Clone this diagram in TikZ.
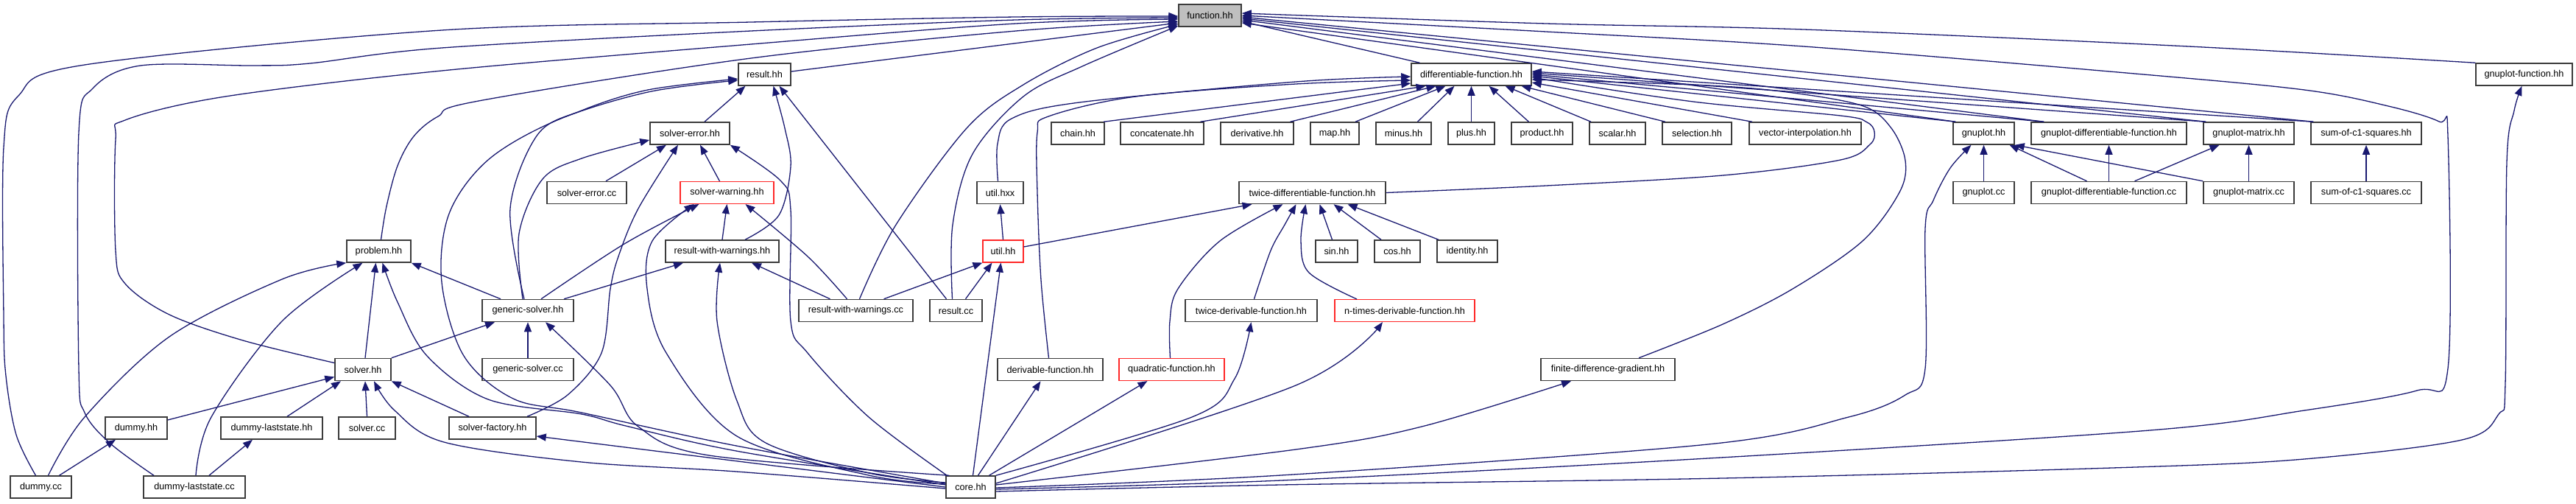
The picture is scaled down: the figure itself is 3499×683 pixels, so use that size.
\documentclass[tikz,border=0pt]{standalone}
\usepackage{fontspec}
\setmainfont{Liberation Sans}
\usetikzlibrary{arrows.meta,calc}
\definecolor{edgecol}{RGB}{25,25,112}
\definecolor{boxcol}{RGB}{60,60,60}
\definecolor{redb}{RGB}{255,40,40}
\definecolor{grayfill}{RGB}{191,191,191}
\begin{document}
\begin{tikzpicture}[x=1pt,y=-1pt,
  box/.style={draw=boxcol, line width=1.5pt, fill=white, minimum height=30pt, inner sep=0pt, font=\fontsize{12.7}{15}\selectfont},
  rbox/.style={box, draw=redb, line width=1.1pt},
  dep/.style={draw=edgecol, line width=1.3pt, -{Triangle[length=13pt,width=10pt]}},
  sm/.style={smooth, tension=0.55}]
\useasboundingbox (0,0) rectangle (3499,683);
% row 0
\node[box, fill=grayfill, minimum width=85pt] (F) at (1643.5,21) {function.hh};
% row 1
\node[box, minimum width=71pt] (resulthh) at (1038.5,101) {result.hh};
\node[box, minimum width=163pt] (D) at (1998.5,101) {differentiable-function.hh};
\node[box, minimum width=131pt] (gfh) at (3428.5,101) {gnuplot-function.hh};
% row 2
\node[box, minimum width=108pt] (seh) at (937,181) {solver-error.hh};
\node[box, minimum width=72pt] (chain) at (1464,181) {chain.hh};
\node[box, minimum width=113pt] (concat) at (1578.5,181) {concatenate.hh};
\node[box, minimum width=99pt] (deriv) at (1707.5,181) {derivative.hh};
\node[box, minimum width=66pt] (map) at (1813,181) {map.hh};
\node[box, minimum width=75pt] (minus) at (1906.5,181) {minus.hh};
\node[box, minimum width=63pt] (plus) at (1998.5,181) {plus.hh};
\node[box, minimum width=83pt] (product) at (2094.5,181) {product.hh};
\node[box, minimum width=76pt] (scalar) at (2197,181) {scalar.hh};
\node[box, minimum width=94pt] (selection) at (2305,181) {selection.hh};
\node[box, minimum width=152pt] (vi) at (2452,181) {vector-interpolation.hh};
\node[box, minimum width=83pt] (gph) at (2694.5,181) {gnuplot.hh};
\node[box, minimum width=211pt] (gdfh) at (2864.5,181) {gnuplot-differentiable-function.hh};
\node[box, minimum width=123pt] (gmh) at (3054.5,181) {gnuplot-matrix.hh};
\node[box, minimum width=150pt] (soch) at (3214,181) {sum-of-c1-squares.hh};
% row 3
\node[box, minimum width=108pt] (secc) at (797,261.5) {solver-error.cc};
\node[rbox, minimum width=127pt] (swh) at (987.5,261.5) {solver-warning.hh};
\node[box, minimum width=63pt] (uhxx) at (1358.5,261.5) {util.hxx};
\node[box, minimum width=199pt] (tdf) at (1782.5,261.5) {twice-differentiable-function.hh};
\node[box, minimum width=83pt] (gpcc) at (2694.5,261.5) {gnuplot.cc};
\node[box, minimum width=211pt] (gdfcc) at (2864.5,261.5) {gnuplot-differentiable-function.cc};
\node[box, minimum width=123pt] (gmcc) at (3054.5,261.5) {gnuplot-matrix.cc};
\node[box, minimum width=150pt] (soccc) at (3214,261.5) {sum-of-c1-squares.cc};
% row 4
\node[box, minimum width=87pt] (prob) at (514.5,341) {problem.hh};
\node[box, minimum width=154pt] (rwh) at (981,341) {result-with-warnings.hh};
\node[rbox, minimum width=55pt] (uhh) at (1362.5,341) {util.hh};
\node[box, minimum width=57pt] (sin) at (1815.5,341) {sin.hh};
\node[box, minimum width=62pt] (cos) at (1898,341) {cos.hh};
\node[box, minimum width=82pt] (ident) at (1993,341) {identity.hh};
% row 5
\node[box, minimum width=124pt] (gsh) at (717,421.5) {generic-solver.hh};
\node[box, minimum width=155pt] (rwcc) at (1162.5,421.5) {result-with-warnings.cc};
\node[box, minimum width=71pt] (rescc) at (1298.5,421.5) {result.cc};
\node[box, minimum width=179pt] (tdvf) at (1699.5,421.5) {twice-derivable-function.hh};
\node[rbox, minimum width=190pt] (ntdf) at (1908,421.5) {n-times-derivable-function.hh};
% row 6
\node[box, minimum width=76pt] (solh) at (493,501.5) {solver.hh};
\node[box, minimum width=124pt] (gscc) at (717,501.5) {generic-solver.cc};
\node[box, minimum width=143pt] (dvf) at (1426.5,501.5) {derivable-function.hh};
\node[rbox, minimum width=143pt] (quad) at (1591.5,501.5) {quadratic-function.hh};
\node[box, minimum width=182pt] (fdg) at (2184,501.5) {finite-difference-gradient.hh};
% row 7
\node[box, minimum width=84pt] (dumh) at (185,581) {dummy.hh};
\node[box, minimum width=138pt] (dlsh) at (369,581) {dummy-laststate.hh};
\node[box, minimum width=77pt] (solcc) at (498.5,581) {solver.cc};
\node[box, minimum width=118pt] (sfh) at (669,581) {solver-factory.hh};
% row 8
\node[box, minimum width=83pt] (dumcc) at (55.5,661) {dummy.cc};
\node[box, minimum width=138pt] (dlscc) at (264,661) {dummy-laststate.cc};
\node[box, minimum width=67pt] (core) at (1318.5,661) {core.hh};

% ---- edges into function.hh from the left
\draw[dep] plot[sm] coordinates {([xshift=-7pt]dumcc.north) (22,590) (8,510) (5,430) (5,200) (25,130) (115,88) (600,41) (1020,30) (1380,23) ([yshift=-1pt]F.west)};
\draw[dep] plot[sm] coordinates {([xshift=-55pt]dlscc.north) (150,602) (115,560) (107,500) (107,180) (126,120) (191,89) (345,89) (421,86) (600,65) (1020,42) (1380,27) ([yshift=-3pt]F.west)};
\draw[dep] plot[sm] coordinates {([yshift=9pt]solh.west) (330,462) (230,427) (170,385) (157,340) (157,190) (170,163) (306,131) (600,96) (1020,60) (1380,32) ([yshift=-5pt]F.west)};
\draw[dep] plot[sm] coordinates {([xshift=3pt]prob.north) (525,280) (540,225) (562,185) (595,158) (650,137) (1020,79) (1380,42) ([yshift=-8pt]F.west)};
\draw[dep] ([yshift=4pt]resulthh.east) -- ([yshift=-10pt]F.west);
\draw[dep] plot[sm] coordinates {([xshift=5pt]rwcc.north) (1217,305) (1313,174) (1390,115) (1490,65) ([yshift=-12pt]F.west)};
\draw[dep] plot[sm] coordinates {([xshift=-5pt]rescc.north) (1294,305) (1321,209) (1390,131) (1470,90) ([yshift=-14pt]F.west)};
% ---- edges into function.hh from the right
\draw[dep] ([xshift=-70pt]D.north) -- ([yshift=-8pt]F.east);
\draw[dep] plot[sm] coordinates {(gfh.north west) (2973,63) (2450,40) (2100,32) ([yshift=3pt]F.east)};
\draw[dep] plot[sm] coordinates {([yshift=-3pt]core.east) (1740,652) (2320,622) (2920,584) (3130,557) (3283,530) (3325,500) (3325,185) (3313,165) (3244,144) (3130,122) (2900,100) (2450,63) (2100,43) (F.east)};
\draw[dep] ([xshift=4pt]soch.north west) -- ([yshift=-2pt]F.east);
\draw[dep] ([xshift=4pt]gmh.north west) -- ([yshift=-4pt]F.east);
\draw[dep] ([xshift=18pt]gdfh.north west) -- ([yshift=-6pt]F.east);
\draw[dep] ([xshift=4pt]gph.north west) -- ([yshift=-10pt]F.east);
% ---- edges into differentiable-function.hh
\draw[dep] ([xshift=4pt]soch.north west) -- ([yshift=4pt]D.east);
\draw[dep] ([xshift=4pt]gmh.north west) -- ([yshift=2pt]D.east);
\draw[dep] ([xshift=18pt]gdfh.north west) -- ([yshift=0pt]D.east);
\draw[dep] ([xshift=4pt]gph.north west) -- ([yshift=-2pt]D.east);
\draw[dep] plot[sm] coordinates {(tdf.east) (2100,252) (2340,238) (2500,217) (2540,196) (2546,179) (2536,166) (2500,157) (2300,138) ([yshift=-4pt]D.east)};
\draw[dep] plot[sm] coordinates {([xshift=42pt]fdg.north) (2340,440) (2435,392) (2530,327) (2580,261) (2588,218) (2569,174) (2531,144) (2435,126) (2320,116) ([yshift=-7pt]D.east)};
\draw[dep] ([xshift=-72pt]vi.north) -- ([yshift=-11pt]D.east);
\draw[dep] plot[sm] coordinates {([xshift=-3pt]uhxx.north) (1355,195) (1374,161) (1466,139) (1760,111) ([yshift=-3pt]D.west)};
\draw[dep] plot[sm] coordinates {([xshift=-2pt]dvf.north) (1414,380) (1409,261) (1409,180) (1424,158) (1543,131) (1760,114) ([yshift=-8pt]D.west)};
\draw[dep] ([xshift=35pt]chain.north) -- ([yshift=-12pt]D.west);
\draw[dep] ([xshift=52pt]concat.north) -- ([xshift=-62pt]D.south);
\draw[dep] ([xshift=45pt]deriv.north) -- ([xshift=-48pt]D.south);
\draw[dep] ([xshift=28pt]map.north) -- ([xshift=-35pt]D.south);
\draw[dep] ([xshift=19pt]minus.north) -- ([xshift=-23pt]D.south);
\draw[dep] (plus.north) -- (D.south);
\draw[dep] ([xshift=-18pt]product.north) -- ([xshift=24pt]D.south);
\draw[dep] ([xshift=-36pt]scalar.north) -- ([xshift=46pt]D.south);
\draw[dep] ([xshift=-43pt]selection.north) -- ([xshift=68pt]D.south);
% ---- twice-differentiable-function.hh
\draw[dep] ([yshift=6pt]uhh.east) -- ([xshift=-82pt]tdf.south);
\draw[dep] plot[sm] coordinates {([xshift=-2pt]quad.north) (1589,436) (1600,392) (1657,327) ([xshift=-40pt]tdf.south)};
\draw[dep] plot[sm] coordinates {([xshift=4pt]tdvf.north) (1726,340) (1745,305) ([xshift=-22pt]tdf.south)};
\draw[dep] plot[sm] coordinates {([xshift=-65pt]ntdf.north) (1778,370) (1767,327) ([xshift=-9pt]tdf.south)};
\draw[dep] ([xshift=-6pt]sin.north) -- ([xshift=10pt]tdf.south);
\draw[dep] ([xshift=-22pt]cos.north) -- ([xshift=29pt]tdf.south);
\draw[dep] ([xshift=-39pt]ident.north) -- ([xshift=48pt]tdf.south);
% ---- util
\draw[dep] (uhh.north) -- (uhxx.south);
\draw[dep] ([xshift=38pt]rwcc.north) -- (uhh.south west);
\draw[dep] ([xshift=13pt]rescc.north) -- ([xshift=-15pt]uhh.south);
% ---- result / solver-error / solver-warning
\draw[dep] ([xshift=20pt]seh.north) -- ([xshift=-26pt]resulthh.south);
\draw[dep] plot[sm] coordinates {([xshift=31pt]rwh.north) (1058,292) (1074,226) (1066,174) ([xshift=12pt]resulthh.south)};
\draw[dep] ([xshift=-13pt]rescc.north) -- ([xshift=20pt]resulthh.south);
\draw[dep] (rwh.north) -- (swh.south);
\draw[dep] plot[sm] coordinates {([xshift=-12pt]rwcc.north) (1097,348) ([xshift=25pt]swh.south)};
\draw[dep] ([xshift=-35pt]rwcc.north) -- ([xshift=40pt]rwh.south);
\draw[dep] ([xshift=26pt]secc.north) -- ([xshift=-32pt]seh.south);
\draw[dep] ([xshift=-10pt]swh.north) -- ([xshift=14pt]seh.south);
\draw[dep] plot[sm] coordinates {([xshift=47pt]sfh.north) (771,536) (817,479) (829,392) (840,348) (867,283) ([xshift=-16pt]seh.south)};
% ---- generic-solver
\draw[dep] plot[sm] coordinates {([xshift=-5pt]gsh.north) (693,283) (730,183) (790,150) (880,122) ([yshift=-6pt]resulthh.west)};
\draw[dep] plot[sm] coordinates {([xshift=-7pt]gsh.north) (705,317) (737,243) (790,215) ([yshift=-9pt]seh.west)};
\draw[dep] plot[sm] coordinates {([xshift=18pt]gsh.north) (848,331) ([xshift=-38pt]swh.south)};
\draw[dep] ([xshift=49pt]gsh.north) -- ([xshift=-53pt]rwh.south);
\draw[dep] ([xshift=-37pt]gsh.north) -- (prob.south east);
\draw[dep] (gscc.north) -- (gsh.south);
% ---- solver / problem / dummies
\draw[dep] (solh.north east) -- ([xshift=-45pt]gsh.south);
\draw[dep] ([xshift=3pt]solh.north) -- ([xshift=-4pt]prob.south);
\draw[dep] ([xshift=-32pt]sfh.north) -- (solh.south east);
\draw[dep] (solcc.north) -- ([xshift=3pt]solh.south);
\draw[dep] ([xshift=21pt]dlsh.north) -- ([xshift=-30pt]solh.south);
\draw[dep] ([yshift=11pt]dumh.east) -- ([yshift=-10pt]solh.west);
\draw[dep] plot[sm] coordinates {([xshift=10pt]dumcc.north) (115,566) (230,457) (383,379) (prob.south west)};
\draw[dep] ([xshift=25pt]dumcc.north) -- ([xshift=-28pt]dumh.south);
\draw[dep] plot[sm] coordinates {([xshift=2pt]dlscc.north) (287,566) (383,436) ([xshift=-22pt]prob.south)};
\draw[dep] ([xshift=20pt]dlscc.north) -- ([xshift=-26pt]dlsh.south);
% ---- gnuplot group
\draw[dep] (gpcc.north) -- (gph.south);
\draw[dep] ([xshift=-30pt]gdfcc.north) -- ([xshift=35pt]gph.south);
\draw[dep] (gmcc.north west) -- (gph.south east);
\draw[dep] (gdfcc.north) -- (gdfh.south);
\draw[dep] ([xshift=35pt]gdfcc.north) -- ([xshift=-40pt]gmh.south);
\draw[dep] (gmcc.north) -- (gmh.south);
\draw[dep] (soccc.north) -- (soch.south);
% ---- edges from core.hh
\draw[dep] plot[sm] coordinates {([yshift=-1pt]core.east) (1740,645) (2320,603) (2511,566) (2588,536) (2615,500) (2615,310) (2626,272) (2649,228) ([xshift=-17pt]gph.south)};
\draw[dep] plot[sm] coordinates {([yshift=-6pt]core.east) (1740,658) (2340,649) (2900,634) (3130,623) (3344,597) (3394,562) (3403,520) (3405,220) (3415,150) ([xshift=-3pt]gfh.south)};
\draw[dep] plot[sm] coordinates {([yshift=3pt]core.east) (1760,610) (1931,579) ([xshift=-50pt]fdg.south)};
\draw[dep] plot[sm] coordinates {([yshift=5pt]core.east) (1760,523) ([xshift=-30pt]ntdf.south)};
\draw[dep] plot[sm] coordinates {(core.north east) (1619,566) (1677,514) (tdvf.south)};
\draw[dep] ([xshift=25pt]core.north) -- ([xshift=-33pt]quad.south);
\draw[dep] ([xshift=10pt]core.north) -- ([xshift=-13pt]dvf.south);
\draw[dep] ([xshift=3pt]core.north) -- ([xshift=-3pt]uhh.south);
\draw[dep] plot[sm] coordinates {([yshift=3pt]core.west) (1000,612) (850,578) (790,562) (663,542) (580,483) (540,410) ([xshift=5pt]prob.south)};
\draw[dep] plot[sm] coordinates {([yshift=-2pt]core.west) (1000,640) (790,627) (603,600) (536,557) ([xshift=15pt]solh.south)};
\draw[dep] plot[sm] coordinates {([xshift=5pt]core.north west) (963,618) (867,579) (829,523) ([xshift=24pt]gsh.south)};
\draw[dep] (core.west) -- ([yshift=-11pt]sfh.east);
\draw[dep] plot[sm] coordinates {([yshift=5pt]core.west) (1000,605) (790,560) (697,541) (630,483) (600,383) (610,290) (663,217) (757,163) (880,125) ([yshift=-8pt]resulthh.west)};
\draw[dep] plot[sm] coordinates {([xshift=2pt]core.north west) (1180,566) (1097,479) (1074,436) (1074,285) (1060,245) (seh.south east)};
\draw[dep] plot[sm] coordinates {([yshift=4pt]core.west) (1180,645) (1001,592) (905,479) (879,392) (886,327) ([xshift=-45pt]swh.south)};
\draw[dep] plot[sm] coordinates {([yshift=6pt]core.west) (1180,642) (1040,601) (1001,544) (974,436) ([xshift=-3pt]rwh.south)};
\end{tikzpicture}
\end{document}
